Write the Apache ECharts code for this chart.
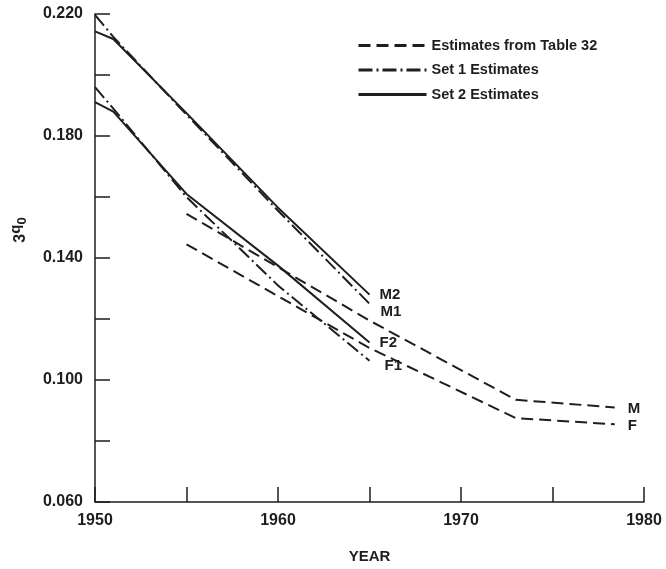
<!DOCTYPE html>
<html>
<head>
<meta charset="utf-8">
<script src="https://cdn.jsdelivr.net/npm/echarts@6/dist/echarts.min.js"></script>
<style>
  html, body { margin: 0; padding: 0; background: #fff; }
  #chart { width: 666px; height: 569px; }
</style>
</head>
<body>
<div id="chart"></div>
<script>
// Years at which each set of estimates is plotted
const setYears = [1950, 1951, 1955, 1960, 1965];
const table32Years = [1955, 1965, 1973, 1978.4];

// 3q0 values, males (M) and females (F)
const set2Male = [0.2143, 0.2118, 0.1875, 0.1565, 0.1280];
const set2Female = [0.1911, 0.1880, 0.1610, 0.1375, 0.1123];
const set1Male = [0.2197, 0.2125, 0.1870, 0.1555, 0.1250];
const set1Female = [0.1960, 0.1890, 0.1600, 0.1310, 0.1063];
const table32Male = [0.1545, 0.1195, 0.0935, 0.0910];
const table32Female = [0.1445, 0.1105, 0.0875, 0.0855];

// Axis tick labels
const xLabels = [1950, 1960, 1970, 1980];
const yLabels = ['0.060', '0.100', '0.140', '0.180', '0.220'];

const INK = '#1e1e1e';
const FONT = '"Liberation Sans", Arial, sans-serif';

function pairs(xs, ys) {
  return xs.map((x, i) => [x, ys[i]]);
}

function lineSeries(name, xs, ys, dash, label, offset) {
  return {
    name: name,
    type: 'line',
    data: pairs(xs, ys),
    symbol: 'none',
    silent: true,
    lineStyle: { color: INK, width: 2, type: dash },
    itemStyle: { color: INK },
    endLabel: {
      show: true,
      formatter: label,
      offset: offset,
      color: INK,
      fontFamily: FONT,
      fontWeight: 'bold',
      fontSize: 15
    }
  };
}

const chart = echarts.init(document.getElementById('chart'), null, { renderer: 'canvas' });

chart.setOption({
  animation: false,
  backgroundColor: '#fff',
  grid: { left: 93, right: 22, top: 14, bottom: 66 },
  legend: {
    orient: 'vertical',
    left: 352,
    top: 33,
    itemWidth: 68,
    itemHeight: 14,
    itemGap: 9.5,
    data: ['Estimates from Table 32', 'Set 1 Estimates', 'Set 2 Estimates'],
    textStyle: { color: INK, fontFamily: FONT, fontWeight: 'bold', fontSize: 14.5 },
    lineStyle: { width: 3 },
    itemStyle: { opacity: 0 },
    selectedMode: false
  },
  xAxis: {
    type: 'value',
    min: 1950,
    max: 1980,
    interval: 5,
    name: 'YEAR',
    nameLocation: 'middle',
    nameGap: 47,
    nameTextStyle: { color: INK, fontFamily: FONT, fontWeight: 'bold', fontSize: 15 },
    axisLine: { lineStyle: { color: INK, width: 1.5 } },
    axisTick: { inside: true, length: 15, lineStyle: { color: INK, width: 1.5 } },
    splitLine: { show: false },
    axisLabel: {
      color: INK,
      fontFamily: FONT,
      fontWeight: 'bold',
      fontSize: 16,
      margin: 11,
      formatter: v => (xLabels.indexOf(Math.round(v)) >= 0 ? String(Math.round(v)) : '')
    }
  },
  yAxis: {
    type: 'value',
    min: 0.06,
    max: 0.22,
    interval: 0.02,
    name: '{n|3}{q|q}{s|0}',
    nameLocation: 'middle',
    nameRotate: 90,
    nameGap: 66,
    nameTextStyle: {
      color: INK,
      fontFamily: FONT,
      fontWeight: 'bold',
      padding: [0, 0, 0, 56],
      rich: {
        n: { fontSize: 16, fontWeight: 'bold', color: INK, fontFamily: FONT, verticalAlign: 'bottom' },
        q: { fontSize: 15, fontWeight: 'bold', color: INK, fontFamily: FONT, verticalAlign: 'top', padding: [0, 0, 6, 0] },
        s: { fontSize: 13, fontWeight: 'bold', color: INK, fontFamily: FONT, verticalAlign: 'bottom' }
      }
    },
    axisLine: { show: true, lineStyle: { color: INK, width: 1.5 } },
    axisTick: { show: true, inside: true, length: 15, lineStyle: { color: INK, width: 1.5 } },
    splitLine: { show: false },
    axisLabel: {
      color: INK,
      fontFamily: FONT,
      fontWeight: 'bold',
      fontSize: 16,
      margin: 12,
      formatter: v => {
        const s = v.toFixed(3);
        return yLabels.indexOf(s) >= 0 ? s : '';
      }
    }
  },
  series: [
    lineSeries('Estimates from Table 32', table32Years, table32Male, [12, 6], 'M', [5, 1]),
    lineSeries('Estimates from Table 32', table32Years, table32Female, [12, 6], 'F', [5, 2]),
    lineSeries('Set 1 Estimates', setYears, set1Male, [14, 4, 2, 4], 'M1', [3, 8]),
    lineSeries('Set 1 Estimates', setYears, set1Female, [14, 4, 2, 4], 'F1', [7, 5]),
    lineSeries('Set 2 Estimates', setYears, set2Male, 'solid', 'M2', [2, 0]),
    lineSeries('Set 2 Estimates', setYears, set2Female, 'solid', 'F2', [2, 0])
  ]
});
</script>
</body>
</html>
